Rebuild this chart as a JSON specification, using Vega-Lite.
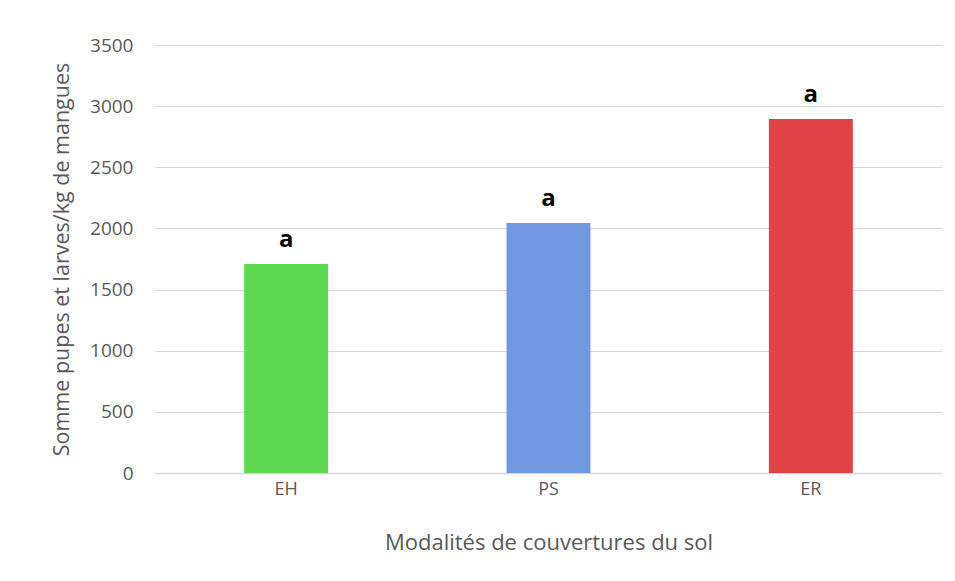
{
  "$schema": "https://vega.github.io/schema/vega-lite/v6.json",
  "autosize": {"type": "none"},
  "width": 787,
  "height": 428,
  "padding": {"left": 155, "top": 45, "right": 13, "bottom": 108},
  "background": "white",
  "config": {"view": {"stroke": null}, "font": "Open Sans"},
  "data": {"values": [
    {"modalite": "EH", "valeur": 1709, "lettre": "a"},
    {"modalite": "PS", "valeur": 2044, "lettre": "a"},
    {"modalite": "ER", "valeur": 2895, "lettre": "a"}
  ]},
  "encoding": {
    "x": {"field": "modalite", "type": "nominal", "sort": ["EH", "PS", "ER"],
      "scale": {"paddingInner": 0.68, "paddingOuter": 0.34},
      "axis": {"title": "Modalités de couvertures du sol", "labelAngle": 0, "labelFontSize": 18, "labelColor": "#595959", "labelPadding": 7, "ticks": false, "domainColor": "#d9d9d9", "domainWidth": 1.5, "titleFontSize": 22, "titleFontWeight": "normal", "titleColor": "#595959", "titlePadding": 34}},
    "y": {"field": "valeur", "type": "quantitative", "scale": {"domain": [0, 3500]},
      "axis": {"title": "Somme pupes et larves/kg de mangues", "values": [0,500,1000,1500,2000,2500,3000,3500], "format": "d", "labelFontSize": 19, "labelColor": "#595959", "labelPadding": 22, "ticks": false, "domain": false, "gridColor": "#d9d9d9", "gridWidth": 1.2, "titleFontSize": 21.5, "titleFontWeight": "normal", "titleColor": "#595959", "titlePadding": 16}}
  },
  "layer": [
    {"mark": {"type": "bar"},
     "encoding": {"color": {"field": "modalite", "type": "nominal", "scale": {"domain": ["EH", "PS", "ER"], "range": ["#5ED851", "#7098E0", "#E04346"]}, "legend": null}}},
    {"mark": {"type": "text", "baseline": "bottom", "dy": -12, "fontSize": 24, "fontWeight": "bold", "color": "black"},
     "encoding": {"text": {"field": "lettre"}}}
  ]
}
